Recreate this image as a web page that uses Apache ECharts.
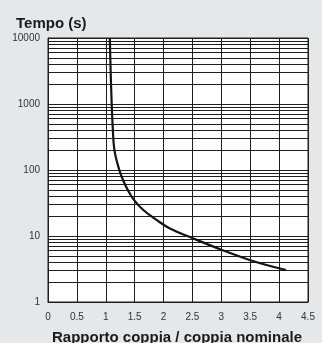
<!DOCTYPE html>
<html><head><meta charset="utf-8">
<script src="https://cdn.jsdelivr.net/npm/echarts@6/dist/echarts.min.js"></script>
<style>html,body{margin:0;padding:0;background:#e6e7e9;}#c{width:322px;height:343px;}</style>
</head><body><div id="c"></div>
<script>
const ratio = [1.07, 1.085, 1.10, 1.12, 1.15, 1.234, 1.30, 1.38, 1.49, 1.65, 1.88, 2.11, 2.5, 3.0, 3.5, 4.12];
const time  = [10000, 3000, 1150, 450, 200, 100, 70, 50, 35, 24.8, 17.5, 13, 9.3, 6.2, 4.3, 3.05];
const yMinorGrid = [2,3,4,5,6,7,8,9,20,30,40,50,60,70,80,90,200,300,400,500,600,700,800,900,2000,3000,4000,5000,6000,7000,8000,9000];
const yTicks = [1, 10, 100, 1000, 10000];
const xTicks = [0, 0.5, 1, 1.5, 2, 2.5, 3, 3.5, 4, 4.5];

const chart = echarts.init(document.getElementById('c'), null, {renderer: 'canvas'});
const lineCol = '#1e1e1e';
const font = 'Liberation Sans';
chart.setOption({
  backgroundColor: '#e6e7e9',
  animation: false,
  title: [
    {text: 'Tempo (s)', left: 11, top: 11, textStyle: {fontFamily: font, fontSize: 15, fontWeight: 'bold', color: '#1a1a1a'}},
    {text: 'Rapporto coppia / coppia nominale', left: 47, top: 325, textStyle: {fontFamily: font, fontSize: 15, fontWeight: 'bold', color: '#1a1a1a'}}
  ],
  grid: {left: 48, right: 14, top: 38, bottom: 41, show: true, backgroundColor: '#ffffff', borderColor: lineCol, borderWidth: 1},
  xAxis: {
    type: 'value', min: 0, max: 4.5, interval: 0.5,
    axisLine: {show: true, lineStyle: {color: lineCol}},
    axisTick: {show: false},
    axisLabel: {color: '#333', fontFamily: font, fontSize: 10, margin: 10,
      formatter: v => xTicks.indexOf(v) >= 0 ? String(v) : ''},
    splitLine: {show: true, lineStyle: {color: lineCol, width: 1}}
  },
  yAxis: {
    type: 'log', logBase: 10, min: 1, max: 10000,
    axisLine: {show: true, lineStyle: {color: lineCol}},
    axisTick: {show: false},
    axisLabel: {color: '#333', fontFamily: font, fontSize: 10, margin: 8,
      formatter: v => yTicks.indexOf(Math.round(v)) >= 0 ? String(Math.round(v)) : ''},
    splitLine: {show: true, lineStyle: {color: lineCol, width: 1}}
  },
  series: [
    {
      type: 'line', data: [], silent: true,
      markLine: {
        silent: true, symbol: ['none', 'none'], animation: false,
        label: {show: false},
        lineStyle: {color: lineCol, width: 1, type: 'solid'},
        data: yMinorGrid.map(v => ({yAxis: v}))
      }
    },
    {
      type: 'line', smooth: 0.4, showSymbol: false,
      data: ratio.map((r, i) => [r, time[i]]),
      lineStyle: {color: '#141414', width: 2.2},
      z: 5
    }
  ]
});
</script></body></html>
